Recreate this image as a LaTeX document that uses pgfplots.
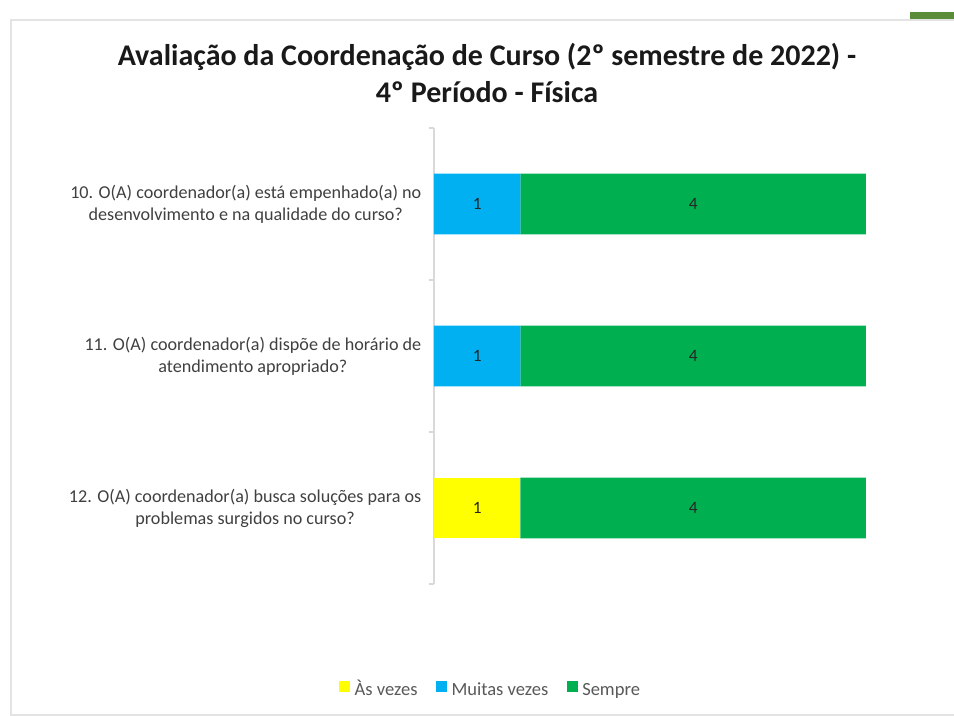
\documentclass[border=0pt]{standalone}
\usepackage{fontspec}
\setmainfont{Carlito}
\usepackage{pgfplots}
\pgfplotsset{compat=1.18}
\definecolor{cYellow}{HTML}{FFFF00}
\definecolor{cBlue}{HTML}{00B0F0}
\definecolor{cGreen}{HTML}{00B050}
\definecolor{cAxis}{HTML}{D9D9D9}
\definecolor{cText}{HTML}{404040}
\definecolor{cLeg}{HTML}{595959}
\definecolor{cFrame}{HTML}{E3E3E3}
\definecolor{cOlive}{HTML}{5B8C3A}
\begin{document}
\begin{tikzpicture}[x=0.75pt,y=0.75pt]
\path[use as bounding box] (0,0) rectangle (954,716);
\fill[white] (0,0) rectangle (954,716);
\draw[cFrame, line width=1.5pt] (954,696) -- (11,696) -- (11,1) -- (954,1);
\fill[cOlive] (910,697) rectangle (954,704);
\node[font=\bfseries\fontsize{22.5}{27.75}\selectfont, align=center, text=black!90] at (487,643)
  {Avaliação da Coordenação de Curso (2º semestre de 2022) -\\4º Período - Física};
\coordinate (AxSW) at (434,132);
\begin{axis}[
  at={(AxSW)}, anchor=south west, scale only axis,
  width=324pt, height=342pt,
  xbar stacked, bar width=0.4,
  xmin=0, xmax=5, ymin=0.5, ymax=3.5, y dir=reverse,
  axis x line=none, axis y line=left,
  axis line style={cAxis, line width=1pt, -},
  ytick={1,2,3},
  yticklabels={{10. O(A) coordenador(a) está empenhado(a) no\\desenvolvimento e na qualidade do curso?},
               {11. O(A) coordenador(a) dispõe de horário de\\atendimento apropriado?},
               {12. O(A) coordenador(a) busca soluções para os\\problemas surgidos no curso?}},
  yticklabel style={align=center, anchor=east, text=cText, font=\fontsize{13.6}{16.5}\selectfont, xshift=-6pt},
  major tick length=0pt,
  extra y ticks={0.5,1.5,2.5,3.5},
  extra y tick labels={},
  extra y tick style={major tick length=4pt, tick align=outside, tick style={cAxis, line width=1pt}},
  /pgf/number format/assume math mode=true,
  point meta=explicit,
  nodes near coords={\pgfmathfloatifflags{\pgfplotspointmeta}{0}{}{\pgfmathprintnumber{\pgfplotspointmeta}}},
  every node near coord/.append style={anchor=center, text=black!85, font=\fontsize{13}{15}\selectfont},
  legend columns=3,
  legend style={at={(0.132,-0.2335)}, anchor=center, draw=none, fill=none,
    font=\fontsize{13.9}{16}\selectfont, text=cLeg,
    nodes={text height=10pt, text depth=3pt},
    /tikz/every even column/.append style={column sep=12pt},
    /tikz/every odd column/.append style={column sep=1.5pt}},
  legend image code/.code={\fill[#1] (0pt,-1pt) rectangle (8pt,7pt);},
]
\addplot[fill=cYellow, draw=none] coordinates {(0,1) [0] (0,2) [0] (1,3) [1]};
\addlegendentry{Às vezes}
\addplot[fill=cBlue, draw=none] coordinates {(1,1) [1] (1,2) [1] (0,3) [0]};
\addlegendentry{Muitas vezes}
\addplot[fill=cGreen, draw=none] coordinates {(4,1) [4] (4,2) [4] (4,3) [4]};
\addlegendentry{Sempre}
\end{axis}
\end{tikzpicture}
\end{document}
